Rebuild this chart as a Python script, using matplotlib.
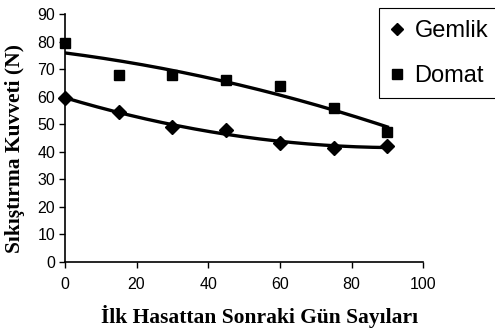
import numpy as np
import matplotlib
matplotlib.use("Agg")
import matplotlib.pyplot as plt
from matplotlib.lines import Line2D
from matplotlib.patches import Rectangle

days = [0, 15, 30, 45, 60, 75, 90]
gemlik = [59.5, 54.5, 49, 48, 43, 41.5, 42]
domat = [79.5, 68, 68, 66, 64, 56, 47]
series_names = ["Gemlik", "Domat"]
xlabel = "İlk Hasattan Sonraki Gün Sayıları"
ylabel = "Sıkıştırma Kuvveti (N)"

W, H = 495, 334
fig = plt.figure(figsize=(W / 100, H / 100), dpi=100)
ax = fig.add_axes([0.131, 0.216, 0.724, 0.742])

xs = np.linspace(0, 90, 200)
for vals, mk, ms in [(gemlik, "D", 7), (domat, "s", 7.5)]:
    c = np.polyfit(days, vals, 2)
    ax.plot(xs, np.polyval(c, xs), color="black", lw=2.4, zorder=2)
    ax.plot(days, vals, linestyle="none", marker=mk, ms=ms, color="black", zorder=3, clip_on=False)

ax.set_xlim(0, 100)
ax.set_ylim(0, 90)
ax.set_xticks(range(0, 101, 20))
ax.set_yticks(range(0, 91, 10))
for s in ["top", "right"]:
    ax.spines[s].set_visible(False)
for s in ["left", "bottom"]:
    ax.spines[s].set_linewidth(1.2)
ax.tick_params(direction="out", length=4, width=1, labelsize=11.5)
for lab in ax.get_xticklabels() + ax.get_yticklabels():
    lab.set_fontfamily("Liberation Sans")
ax.tick_params(axis="x", pad=7)
ax.tick_params(axis="y", pad=3)

ax.set_xlabel(xlabel, fontfamily="Liberation Serif", fontweight="bold", fontsize=15.5)
ax.set_ylabel(ylabel, fontfamily="Liberation Serif", fontweight="bold", fontsize=15.5)
ax.xaxis.set_label_coords(0.542, -0.22)
ax.xaxis.label.set_va("center")
ax.yaxis.set_label_coords(-0.140, 0.456)
ax.yaxis.label.set_va("center")

# legend frame (runs past the right edge as in the reference)
fig.patches.append(Rectangle((379 / W, 1 - 98 / H), 250 / W, 90 / H, transform=fig.transFigure,
                             facecolor="white", edgecolor="black", lw=0.8, zorder=4))

handles = [Line2D([], [], linestyle="none", marker="D", ms=6.5, color="black"),
           Line2D([], [], linestyle="none", marker="s", ms=7, color="black")]
leg = fig.legend(handles, series_names, loc="upper left",
                 bbox_to_anchor=(379 / W, 1 - 8 / H),
                 frameon=False, handlelength=0.5,
                 handletextpad=0.5, borderpad=0.5, labelspacing=1.0, borderaxespad=0,
                 prop={"family": "Liberation Sans", "size": 17})
leg.set_zorder(5)

fig.savefig("out.png", dpi=100)
